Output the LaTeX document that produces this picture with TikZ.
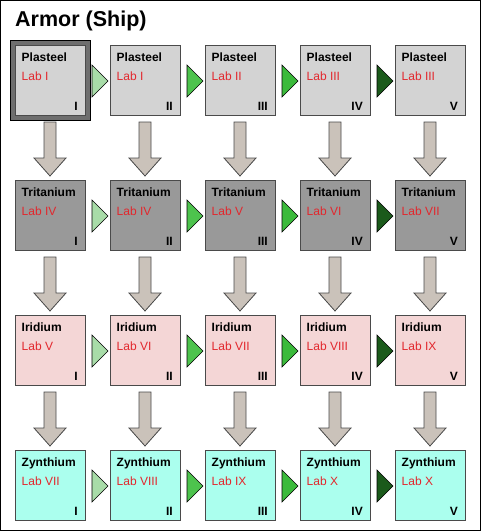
\documentclass[tikz,border=0pt]{standalone}
\usepackage{fontspec}
\setmainfont{Liberation Sans}
\usetikzlibrary{positioning,calc,fit,backgrounds}
\definecolor{ArmorEdge}{HTML}{4A4A4A}
\definecolor{ArmorRed}{HTML}{E2272D}
\definecolor{PlasteelFill}{HTML}{D3D3D3}
\definecolor{TritaniumFill}{HTML}{999999}
\definecolor{IridiumFill}{HTML}{F4D6D6}
\definecolor{ZynthiumFill}{HTML}{ABFFEE}
\definecolor{SelectGray}{HTML}{6E6E6E}
\definecolor{DownFill}{HTML}{CAC2BA}
\definecolor{UpgradeOne}{HTML}{A8DCA8}
\definecolor{UpgradeTwo}{HTML}{4DC34D}
\definecolor{UpgradeThree}{HTML}{3BBA3B}
\definecolor{UpgradeFour}{HTML}{1B5A1B}

\begin{document}
\begin{tikzpicture}[x=1pt,y=1pt,
  techbox/.style n args={3}{draw=ArmorEdge,line width=0.8pt,minimum width=70pt,minimum height=70pt,inner sep=0pt,outer sep=0pt,
    label={[name text]north west:#1},label={[lab text]north west:#2},label={[level text]south east:#3}},
  name text/.style={anchor=base west,xshift=6.5pt,yshift=-16pt,inner sep=0pt,font=\fontsize{12}{14}\selectfont\bfseries},
  lab text/.style={anchor=base west,xshift=6.5pt,yshift=-35pt,inner sep=0pt,text=ArmorRed,font=\fontsize{12}{14}\selectfont},
  level text/.style={anchor=base east,xshift=-7pt,yshift=4.5pt,inner sep=0pt,font=\fontsize{12}{14}\selectfont\bfseries},
  plasteel/.style={fill=PlasteelFill},
  tritanium/.style={fill=TritaniumFill},
  iridium/.style={fill=IridiumFill},
  zynthium/.style={fill=ZynthiumFill},
  selected/.style={draw=black,fill=SelectGray,line width=0.8pt,inner sep=5pt},
  upgrade/.style={draw=black,line width=0.6pt,line join=miter},
  downarrow/.style={draw=ArmorEdge,fill=DownFill,line width=0.8pt}
]
\useasboundingbox (0,0) rectangle (481,-531);
\node[anchor=base west,inner sep=0pt,font=\fontsize{21.5}{24}\selectfont\bfseries] (title) at (15,-26.5) {Armor (Ship)};
% row 1
\node[plasteel,techbox={Plasteel}{Lab I}{I}] (pl1) at (50,-80) {};
\node[plasteel,techbox={Plasteel}{Lab I}{II},right=25pt of pl1] (pl2) {};
\node[plasteel,techbox={Plasteel}{Lab II}{III},right=25pt of pl2] (pl3) {};
\node[plasteel,techbox={Plasteel}{Lab III}{IV},right=25pt of pl3] (pl4) {};
\node[plasteel,techbox={Plasteel}{Lab III}{V},right=25pt of pl4] (pl5) {};
% row 2
\node[tritanium,techbox={Tritanium}{Lab IV}{I},below=65pt of pl1] (tr1) {};
\node[tritanium,techbox={Tritanium}{Lab IV}{II},right=25pt of tr1] (tr2) {};
\node[tritanium,techbox={Tritanium}{Lab V}{III},right=25pt of tr2] (tr3) {};
\node[tritanium,techbox={Tritanium}{Lab VI}{IV},right=25pt of tr3] (tr4) {};
\node[tritanium,techbox={Tritanium}{Lab VII}{V},right=25pt of tr4] (tr5) {};
% row 3
\node[iridium,techbox={Iridium}{Lab V}{I},below=65pt of tr1] (ir1) {};
\node[iridium,techbox={Iridium}{Lab VI}{II},right=25pt of ir1] (ir2) {};
\node[iridium,techbox={Iridium}{Lab VII}{III},right=25pt of ir2] (ir3) {};
\node[iridium,techbox={Iridium}{Lab VIII}{IV},right=25pt of ir3] (ir4) {};
\node[iridium,techbox={Iridium}{Lab IX}{V},right=25pt of ir4] (ir5) {};
% row 4
\node[zynthium,techbox={Zynthium}{Lab VII}{I},below=65pt of ir1] (zy1) {};
\node[zynthium,techbox={Zynthium}{Lab VIII}{II},right=25pt of zy1] (zy2) {};
\node[zynthium,techbox={Zynthium}{Lab IX}{III},right=25pt of zy2] (zy3) {};
\node[zynthium,techbox={Zynthium}{Lab X}{IV},right=25pt of zy3] (zy4) {};
\node[zynthium,techbox={Zynthium}{Lab X}{V},right=25pt of zy4] (zy5) {};
% frame and current selection
\begin{scope}[on background layer]
\draw[black,line width=1pt,fill=white] (0.5,-0.5) rectangle (480.5,-530.5);
\node[selected,fit=(pl1)] (pl1sel) {};
\end{scope}
% upgrades along each row
\foreach \row in {pl,tr,ir,zy}{
  \foreach \a/\b/\tone in {1/2/UpgradeOne,2/3/UpgradeTwo,3/4/UpgradeThree,4/5/UpgradeFour}
    \draw[upgrade,fill=\tone] ($(\row\a.east)+(7,15)$) -- ($(\row\b.west)+(-2,-1)$) -- ($(\row\a.east)+(7,-17)$) -- cycle;
}
% refits down each column
\foreach \u/\d in {pl/tr,tr/ir,ir/zy}{
  \foreach \i in {1,...,5}
    \draw[downarrow] ($(\u\i.south)+(-6,-7)$) -- ++(0,-36) -- ++(-10,0) -- ($(\d\i.north)+(0,4)$)
      -- ($(\u\i.south)+(16,-43)$) -- ++(-10,0) -- ++(0,36) -- cycle;
}
\end{tikzpicture}
\end{document}
